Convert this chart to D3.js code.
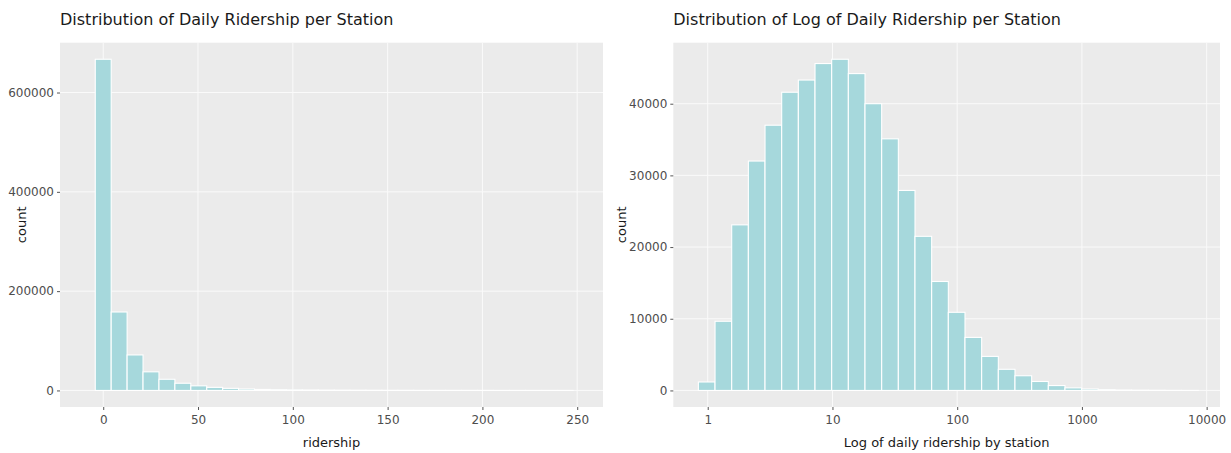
<!DOCTYPE html>
<html>
<head>
<meta charset="utf-8">
<script src="https://cdn.jsdelivr.net/npm/d3@7"></script>
<style>
  html, body { margin: 0; padding: 0; background: #ffffff; }
  svg { display: block; }
  .title { font-family: "DejaVu Sans", sans-serif; font-size: 16px; fill: #1a1a1a; }
  .axis-title { font-family: "DejaVu Sans", sans-serif; font-size: 13px; fill: #1a1a1a; }
  .tick text { font-family: "DejaVu Sans", sans-serif; font-size: 12px; fill: #4d4d4d; }
  .tick line { stroke: #555555; }
</style>
</head>
<body>
<svg id="chart" width="1231" height="453"></svg>
<script>
// ---- Daily ridership per station: 30 equal-width bins ----
const ridershipBinStart = -4.2;
const ridershipBinWidth = 8.4;
const ridershipCounts = [
  667000, 158000, 71500, 37500, 22500, 14500, 9300, 6200, 4200, 2900,
  2000, 1500, 1100, 850, 650, 500, 400, 320, 260, 210,
  170, 140, 120, 100, 85, 70, 60, 50, 40, 30
];
const ridershipXTicks = [0, 50, 100, 150, 200, 250];
const ridershipYTicks = [0, 200000, 400000, 600000];

// ---- log10 of daily ridership per station: 30 equal-width bins ----
const logBinStart = -0.075;
const logBinWidth = 0.1336;
const logCounts = [
  1180, 9650, 23100, 32000, 37000, 41600, 43300, 45600, 46200, 44200,
  40000, 35100, 27900, 21500, 15200, 10900, 7400, 4750, 2950, 2050,
  1250, 680, 360, 200, 110, 60, 35, 20, 10, 5
];
const logXTicks = [1, 10, 100, 1000, 10000];
const logYTicks = [0, 10000, 20000, 30000, 40000];

const svg = d3.select("#chart");
const BAR_FILL = "#a6d8dc";
const PANEL_BG = "#ebebeb";

function drawPanel(opts) {
  const { left, right, top, bottom, x, counts, edges, xTicks, yTicks,
          xFormat, title, xTitle, yTitleX } = opts;

  const maxCount = d3.max(counts);
  const y = d3.scaleLinear()
    .domain([-0.05 * maxCount, 1.05 * maxCount])
    .range([bottom, top]);

  const g = svg.append("g");

  // panel background
  g.append("rect")
    .attr("x", left).attr("y", top)
    .attr("width", right - left).attr("height", bottom - top)
    .attr("fill", PANEL_BG);

  // grid lines
  g.append("g").selectAll("line").data(xTicks).join("line")
    .attr("x1", d => x(d)).attr("x2", d => x(d))
    .attr("y1", top).attr("y2", bottom)
    .attr("stroke", "#fafafa").attr("stroke-width", 1);
  g.append("g").selectAll("line").data(yTicks).join("line")
    .attr("x1", left).attr("x2", right)
    .attr("y1", d => y(d)).attr("y2", d => y(d))
    .attr("stroke", "#fafafa").attr("stroke-width", 1);

  // histogram bars
  const bins = counts.map((c, i) => ({ x0: edges[i], x1: edges[i + 1], count: c }));
  g.append("g").selectAll("rect").data(bins).join("rect")
    .attr("x", d => x(d.x0))
    .attr("width", d => x(d.x1) - x(d.x0))
    .attr("y", d => y(d.count))
    .attr("height", d => y(0) - y(d.count))
    .attr("fill", BAR_FILL)
    .attr("stroke", "#ffffff")
    .attr("stroke-width", 1.1);

  // axes
  const xAxis = g.append("g")
    .attr("transform", `translate(0,${bottom})`)
    .call(d3.axisBottom(x).tickValues(xTicks).tickSize(3).tickPadding(5).tickFormat(xFormat));
  xAxis.select(".domain").remove();

  const yAxis = g.append("g")
    .attr("transform", `translate(${left},0)`)
    .call(d3.axisLeft(y).tickValues(yTicks).tickSize(3).tickPadding(3).tickFormat(d3.format("d")));
  yAxis.select(".domain").remove();

  // titles
  g.append("text").attr("class", "title")
    .attr("x", left).attr("y", 25)
    .text(title);
  g.append("text").attr("class", "axis-title")
    .attr("x", (left + right) / 2).attr("y", 447)
    .attr("text-anchor", "middle")
    .text(xTitle);
  g.append("text").attr("class", "axis-title")
    .attr("transform", `translate(${yTitleX},${(top + bottom) / 2}) rotate(-90)`)
    .attr("text-anchor", "middle")
    .attr("dy", "0.35em")
    .text("count");
}

const TOP = 42.7, BOTTOM = 407;

// left panel: linear ridership
const ridershipEdges = d3.range(ridershipCounts.length + 1)
  .map(i => ridershipBinStart + i * ridershipBinWidth);
drawPanel({
  left: 60, right: 603, top: TOP, bottom: BOTTOM,
  x: d3.scaleLinear().domain([-22.8, 263.6]).range([60, 603]),
  counts: ridershipCounts,
  edges: ridershipEdges,
  xTicks: ridershipXTicks,
  yTicks: ridershipYTicks,
  xFormat: d3.format("d"),
  title: "Distribution of Daily Ridership per Station",
  xTitle: "ridership",
  yTitleX: 21.5
});

// right panel: log10 x axis
const logEdges = d3.range(logCounts.length + 1)
  .map(i => Math.pow(10, logBinStart + i * logBinWidth));
drawPanel({
  left: 673.3, right: 1220, top: TOP, bottom: BOTTOM,
  x: d3.scaleLog().domain([Math.pow(10, -0.276), Math.pow(10, 4.107)]).range([673.3, 1220]),
  counts: logCounts,
  edges: logEdges,
  xTicks: logXTicks,
  yTicks: logYTicks,
  xFormat: d3.format("d"),
  title: "Distribution of Log of Daily Ridership per Station",
  xTitle: "Log of daily ridership by station",
  yTitleX: 621.5
});
</script>
</body>
</html>
